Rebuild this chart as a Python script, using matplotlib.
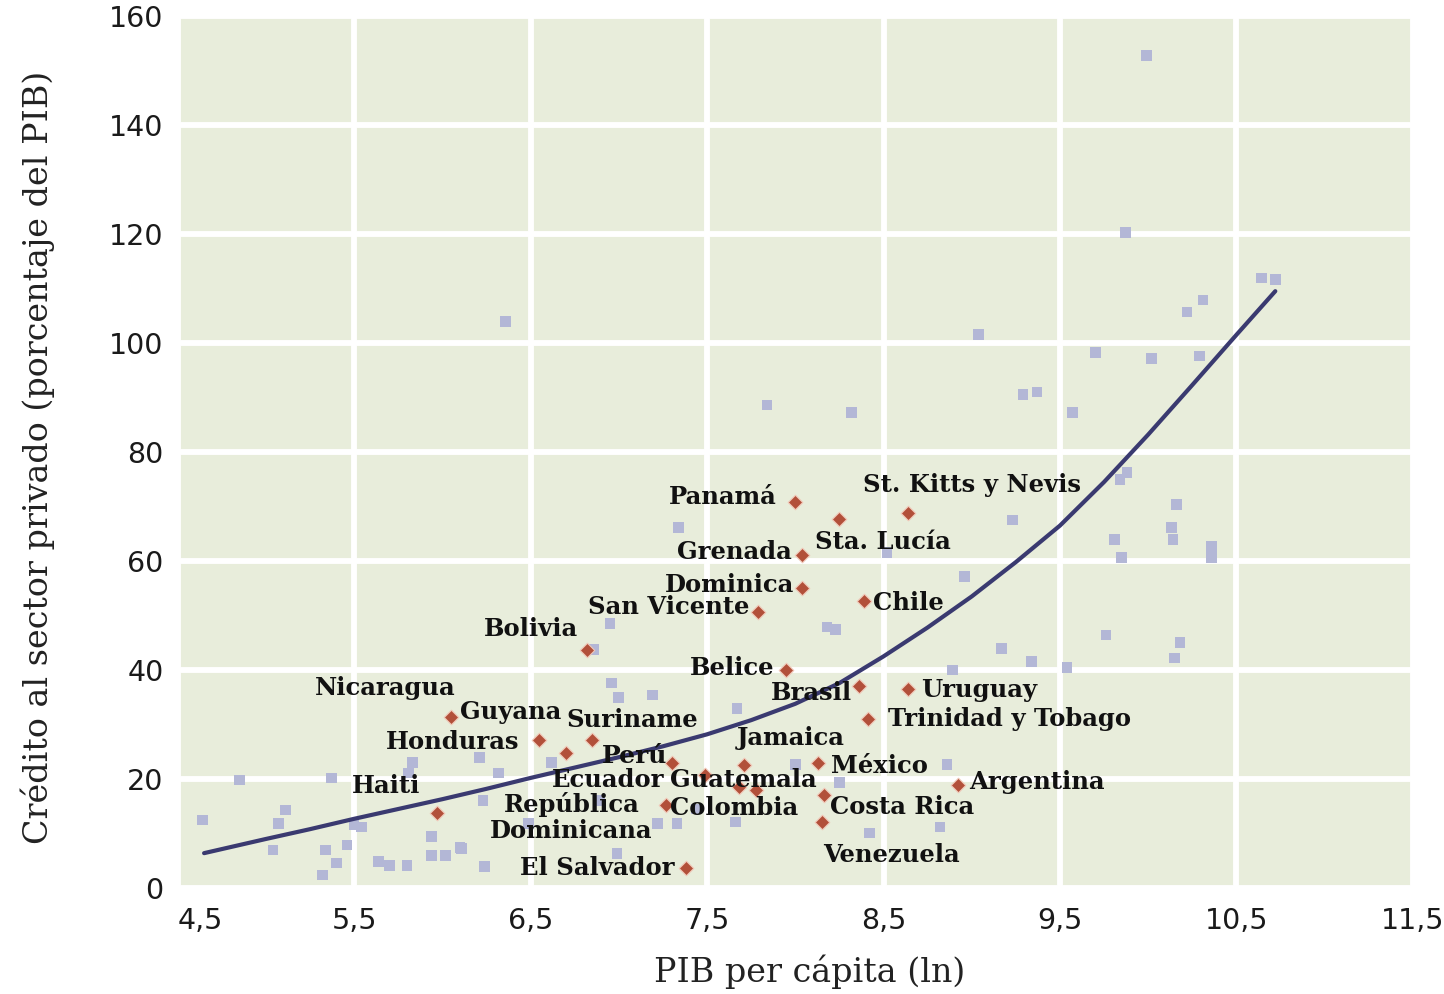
import matplotlib
matplotlib.use("Agg")
import matplotlib.pyplot as plt

# ---------------- data ----------------
# all countries (grey points): ln GDP per capita, private credit (% GDP)
world_x = [9.99, 9.87, 6.36, 10.64, 10.72, 10.31, 10.22, 9.04, 9.70, 10.02,
           10.29, 9.29, 9.37, 9.57, 7.84, 8.32, 9.84, 9.88, 10.16, 9.23,
           10.13, 10.14, 9.81, 9.85, 10.36, 10.36, 8.96, 9.76, 9.17, 9.34,
           9.54, 10.18, 10.15, 8.89, 7.34, 8.52, 8.18, 8.23, 6.95, 6.86,
           6.96, 7.00, 7.19, 7.67, 8.00, 8.25, 8.86, 8.82, 8.42, 7.66,
           4.85, 5.37, 5.83, 5.81, 6.32, 4.64, 5.11, 5.07, 5.04, 5.54,
           5.34, 5.46, 5.40, 5.32, 5.64, 5.70, 5.80, 5.94, 6.02, 6.11,
           6.24, 6.49, 6.23, 6.21, 6.62, 7.22, 7.33, 6.99, 6.89, 7.44,
           5.94, 6.10, 5.50]
world_y = [152.7, 120.2, 103.9, 111.9, 111.6, 107.9, 105.7, 101.5, 98.3, 97.2,
           97.6, 90.5, 91.0, 87.2, 88.6, 87.3, 74.9, 76.2, 70.3, 67.5,
           66.2, 63.9, 63.9, 60.7, 62.6, 60.7, 57.1, 46.4, 44.0, 41.5,
           40.4, 45.1, 42.2, 40.0, 66.2, 61.5, 47.9, 47.5, 48.6, 43.7,
           37.6, 35.0, 35.4, 33.0, 22.6, 19.3, 22.6, 11.2, 10.1, 12.1,
           19.8, 20.2, 23.1, 21.1, 21.1, 12.5, 14.3, 11.9, 7.0, 11.2,
           7.0, 7.9, 4.6, 2.4, 4.8, 4.2, 4.2, 6.0, 6.0, 7.3,
           3.9, 11.9, 16.1, 24.0, 23.1, 11.9, 11.9, 6.4, 16.1, 14.5,
           9.4, 7.5, 11.6]

# Latin America & Caribbean (red points)
countries = ["Panamá", "St. Kitts y Nevis", "Sta. Lucía", "Grenada", "Dominica",
             "San Vicente", "Chile", "Bolivia", "Belice", "Brasil", "Uruguay",
             "Trinidad y Tobago", "Nicaragua", "Guyana", "Honduras", "Suriname",
             "Jamaica", "Perú", "Ecuador", "Guatemala", "México", "Argentina",
             "República\nDominicana", "Colombia", "Costa Rica", "Venezuela",
             "El Salvador", "Haiti"]
lac_x = [8.00, 8.64, 8.245, 8.04, 8.04, 7.79, 8.39, 6.82, 7.95, 8.36, 8.64,
         8.41, 6.05, 6.55, 6.70, 6.85, 7.71, 7.30, 7.49, 7.68, 8.13, 8.92,
         7.27, 7.78, 8.16, 8.15, 7.38, 5.97]
lac_y = [70.8, 68.8, 67.7, 61.1, 55.0, 50.6, 52.7, 43.7, 40.0, 37.1, 36.5,
         31.0, 31.4, 27.2, 24.8, 27.2, 22.6, 22.9, 20.7, 18.5, 22.9, 18.9,
         15.2, 18.0, 17.1, 12.1, 3.7, 13.8]

# fitted trend curve
trend_x = [4.65, 5.0, 5.25, 5.5, 5.75, 6.0, 6.25, 6.5, 6.75, 7.0, 7.25, 7.5,
           7.75, 8.0, 8.25, 8.5, 8.75, 9.0, 9.25, 9.5, 9.75, 10.0, 10.25,
           10.5, 10.72]
trend_y = [6.4, 9.0, 10.8, 12.7, 14.5, 16.3, 18.2, 20.2, 22.1, 24.0, 26.0,
           28.2, 30.8, 33.8, 37.6, 42.5, 47.8, 53.5, 59.8, 66.5, 74.5, 83.2,
           92.3, 101.5, 109.5]

x_ticks = [4.5, 5.5, 6.5, 7.5, 8.5, 9.5, 10.5, 11.5]
x_tick_labels = ["4,5", "5,5", "6,5", "7,5", "8,5", "9,5", "10,5", "11,5"]
y_ticks = [0, 20, 40, 60, 80, 100, 120, 140, 160]

# label placement (x, y in data units, horizontal alignment)
lab_x = [7.894, 8.381, 8.109, 7.979, 7.996, 7.741, 8.438, 6.766, 7.882, 8.324,
         8.715, 8.523, 6.075, 6.098, 6.438, 6.704, 7.667, 7.276, 7.259, 7.288,
         8.205, 8.987, 6.732, 7.288, 8.194, 8.545, 7.316, 5.68]
lab_y = [71.7, 73.9, 63.5, 61.7, 55.6, 51.6, 52.3, 47.5, 40.4, 35.8,
         36.3, 31.0, 36.7, 32.3, 26.8, 30.8, 27.5, 24.2, 19.9, 19.8,
         22.4, 19.4, 13.0, 14.7, 14.9, 6.1, 3.7, 18.7]
lab_ha = ["right", "left", "left", "right", "right", "right", "left", "right",
          "right", "right", "left", "left", "right", "left", "right", "left",
          "left", "right", "right", "left", "left", "left", "center", "left",
          "left", "center", "right", "center"]

# ---------------- figure ----------------
fig = plt.figure(figsize=(14.44, 9.94), dpi=100)
ax = fig.add_axes([0.123, 0.1066, 0.8555, 0.8774])
ax.set_facecolor("#e8eddb")
for s in ax.spines.values():
    s.set_visible(False)

ax.set_xlim(4.5, 11.5)
ax.set_ylim(0, 160)
ax.set_xticks(x_ticks)
ax.set_xticklabels(x_tick_labels)
ax.set_yticks(y_ticks)
ax.tick_params(length=0, labelsize=20.5, colors="#1a1a1a")
ax.tick_params(axis="y", pad=10)
ax.tick_params(axis="x", pad=14)
ax.get_xticklabels()[0].set_ha("left")
ax.grid(True, color="white", linewidth=4.2)
ax.set_axisbelow(True)

ax.scatter(world_x, world_y, s=60, marker="s", color="#b3b7d6",
           edgecolors="none", zorder=2)
ax.plot(trend_x, trend_y, color="#3a3a70", linewidth=3, zorder=3,
        solid_capstyle="round", solid_joinstyle="round")
ax.scatter(lac_x, lac_y, s=55, marker="D", color="#b2503a",
           edgecolors="#f0c8b8", linewidths=0.8, zorder=4)

for name, tx, ty, ha in zip(countries, lab_x, lab_y, lab_ha):
    fs = 18 if name == "Perú" else 17.5
    ax.text(tx, ty, name, ha=ha, va="center", fontsize=fs,
            family="DejaVu Serif", fontweight="bold", color="#111111",
            zorder=5, linespacing=1.1)

fig.text(810 / 1444, 1 - 972 / 994, "PIB per cápita (ln)", ha="center",
         va="center", fontsize=24, family="DejaVu Serif", color="#222222")
fig.text(38 / 1444, 1 - 457 / 994, "Crédito al sector privado (porcentaje del PIB)",
         ha="center", va="center", rotation=90, fontsize=24,
         family="DejaVu Serif", color="#222222")

fig.savefig("out.png", dpi=100, facecolor="white")
